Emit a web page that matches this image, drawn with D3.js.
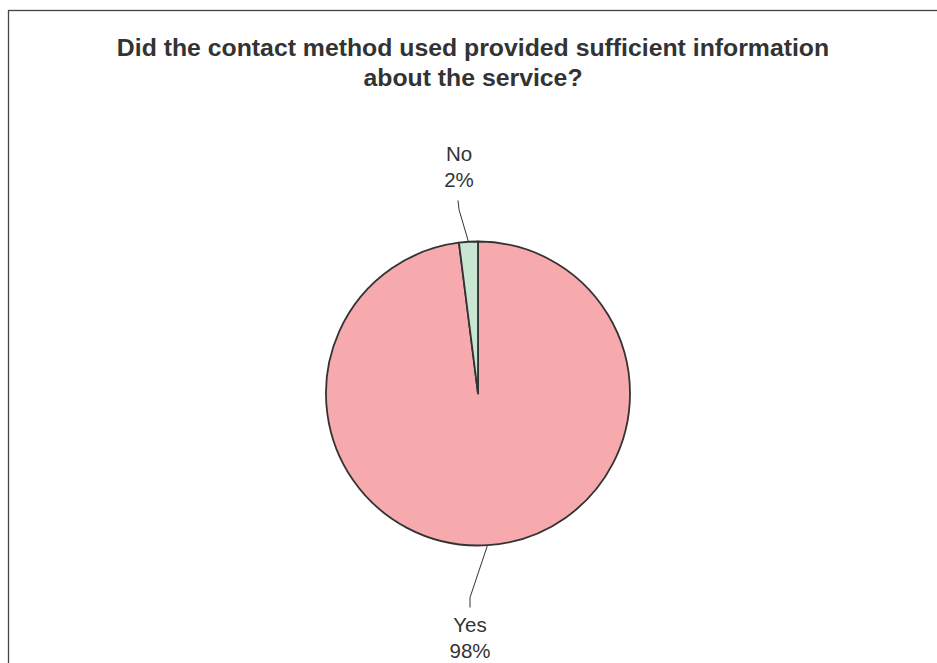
<!DOCTYPE html>
<html>
<head>
<meta charset="utf-8">
<script src="https://cdn.jsdelivr.net/npm/d3@7"></script>
<style>
  body { margin: 0; background: #fff; }
  svg { display: block; font-family: "Liberation Sans", Arial, sans-serif; }
</style>
</head>
<body>
<div id="chart"></div>
<script>
// data
var categories = ["Yes", "No"];
var values = [98, 2];
var colors = ["#f6aaad", "#c9e6d3"];
var titleLines = ["Did the contact method used provided sufficient information", "about the service?"];

var width = 937, height = 663;
var cx = 478, cy = 393.5, r = 152;

var svg = d3.select("#chart").append("svg")
  .attr("width", width)
  .attr("height", height);

// frame (open on right and bottom, cut by the window)
svg.append("rect")
  .attr("x", 8.5).attr("y", 10.5)
  .attr("width", 940).attr("height", 700)
  .attr("fill", "none")
  .attr("stroke", "#444")
  .attr("stroke-width", 1.3);

svg.append("g").selectAll("text")
  .data(titleLines)
  .enter().append("text")
  .attr("x", 473)
  .attr("y", function(d, i) { return 56 + i * 30; })
  .attr("text-anchor", "middle")
  .attr("font-size", 24.8)
  .attr("font-weight", "bold")
  .attr("fill", "#333")
  .text(function(d) { return d; });

var data = categories.map(function(c, i) { return { label: c, value: values[i], color: colors[i] }; });

var pie = d3.pie().sort(null).value(function(d) { return d.value; });
var arcs = pie(data);
var arc = d3.arc().innerRadius(0).outerRadius(r);

var g = svg.append("g").attr("transform", "translate(" + cx + "," + cy + ")");

g.selectAll("path")
  .data(arcs)
  .enter().append("path")
  .attr("d", arc)
  .attr("fill", function(d) { return d.data.color; })
  .attr("stroke", "#333")
  .attr("stroke-width", 1.8)
  .attr("stroke-linejoin", "round");

// labels with leader lines
var total = d3.sum(values);
var labelPos = {
  "Yes": { x: -8, y: 238, lineEnd: [-8, 214], bend: [-8, 204] },
  "No": { x: -19, y: -233, lineEnd: [-20, -193], bend: [-19, -184] }
};

arcs.forEach(function(d) {
  var p = labelPos[d.data.label];
  var mid = (d.startAngle + d.endAngle) / 2;
  var edge = [Math.sin(mid) * r, -Math.cos(mid) * r];
  g.append("path")
    .attr("d", d3.line()([edge, p.bend, p.lineEnd]))
    .attr("fill", "none")
    .attr("stroke", "#333")
    .attr("stroke-width", 1);
  var t = g.append("text")
    .attr("text-anchor", "middle")
    .attr("font-size", 20.5)
    .attr("fill", "#333");
  t.append("tspan").attr("x", p.x).attr("y", p.y).text(d.data.label);
  t.append("tspan").attr("x", p.x).attr("y", p.y + 26)
    .text(Math.round(d.data.value / total * 100) + "%");
});
</script>
</body>
</html>
